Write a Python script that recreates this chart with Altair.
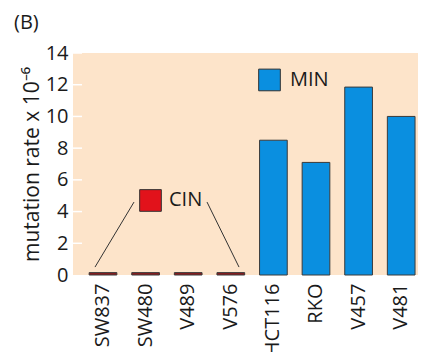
import altair as alt
import pandas as pd

# ---- data ----
cell_lines = ["SW837", "SW480", "V489", "V576", "HCT116", "RKO", "V457", "V481"]
groups = ["CIN", "CIN", "CIN", "CIN", "MIN", "MIN", "MIN", "MIN"]
rates = [0.15, 0.15, 0.15, 0.15, 8.5, 7.1, 11.85, 10.0]
y_ticks = [0, 2, 4, 6, 8, 10, 12, 14]

legend_labels = ["CIN", "MIN"]
legend_colors = ["#E2121B", "#0A8FE0"]
legend_px = [77.5, 196.5]          # pixel x of the legend squares in the plot
legend_val = [4.7, 12.3]           # y position in data units
legend_text_px = [96, 217]

# connector lines from the CIN legend to the CIN bars
conn_x = [61, 134]
conn_x2 = [22, 166]
conn_y = [4.6, 4.6]
conn_y2 = [0.5, 0.5]

FONT = "Open Sans"
TXT = "#1a1a1a"

df = pd.DataFrame({"line": cell_lines, "group": groups, "rate": rates})
leg = pd.DataFrame({"label": legend_labels, "color": legend_colors, "px": legend_px,
                    "val": legend_val, "tpx": legend_text_px})
conn = pd.DataFrame({"x": conn_x, "x2": conn_x2, "y": conn_y, "y2": conn_y2})
ticks = pd.DataFrame({"t": y_ticks[1:]})

yscale = alt.Scale(domain=[0, 14], nice=False)
yaxis = alt.Axis(values=y_ticks, title="mutation rate x 10⁻⁶", grid=False,
                 domain=False, ticks=False, tickSize=0, labelFontSize=20,
                 labelFont=FONT, labelColor=TXT, titleFont=FONT,
                 titleFontSize=21, titleFontWeight="normal", titleColor=TXT,
                 labelPadding=5, titlePadding=3, labelOverlap=False)
YT = "mutation rate x 10⁻⁶"

bars = alt.Chart(df).mark_bar(stroke="#3a3a3a", strokeWidth=1).encode(
    x=alt.X("line:N", sort=cell_lines,
            scale=alt.Scale(paddingInner=0.35, paddingOuter=0.2245, align=0.845),
            axis=alt.Axis(title=None, labelAngle=-90, labelFontSize=20, labelColor=TXT,
                          labelFont=FONT, domain=False, ticks=False, tickSize=0,
                          labelPadding=8, labelOverlap=False)),
    y=alt.Y("rate:Q", scale=yscale, axis=yaxis, title=YT),
    color=alt.Color("group:N", scale=alt.Scale(domain=["CIN", "MIN"],
                                               range=["#8B1A1E", "#0A8FE0"]),
                    legend=None),
)

tick_marks = alt.Chart(ticks).mark_rule(color="white", strokeWidth=1.5).encode(
    y=alt.Y("t:Q", scale=yscale, axis=yaxis, title=YT),
    x=alt.value(0), x2=alt.value(9),
)

conn_lines = alt.Chart(conn).mark_rule(color="#333333", strokeWidth=1).encode(
    x=alt.X("x:Q", scale=None, axis=None), x2="x2:Q",
    y=alt.Y("y:Q", scale=yscale, axis=yaxis, title=YT), y2="y2:Q",
)

leg_sq = alt.Chart(leg).mark_point(shape="square", filled=True, size=470, opacity=1,
                                   stroke="#333333", strokeWidth=1).encode(
    x=alt.X("px:Q", scale=None, axis=None),
    y=alt.Y("val:Q", scale=yscale, axis=yaxis, title=YT),
    fill=alt.Color("color:N", scale=None),
)

leg_txt = alt.Chart(leg).mark_text(align="left", baseline="middle", fontSize=20,
                                   font=FONT, color=TXT).encode(
    x=alt.X("tpx:Q", scale=None, axis=None),
    y=alt.Y("val:Q", scale=yscale, axis=yaxis, title=YT),
    text="label:N",
)

panel = alt.Chart(pd.DataFrame({"t": ["(B)"]})).mark_text(
    align="left", baseline="middle", fontSize=20, font=FONT, color=TXT
).encode(x=alt.value(-59), y=alt.value(-30), text="t:N")

chart = alt.layer(bars, tick_marks, conn_lines, leg_sq, leg_txt, panel).resolve_scale(
    x="independent"
).properties(
    width=345, height=222,
    autosize=alt.AutoSizeParams(type="none"),
    padding={"left": 65, "top": 45, "right": 0, "bottom": 77},
).configure_view(fill="#FDE4CA", strokeWidth=0).configure_axisY(labelOverlap=False)

chart.save("out.html", embed_options={"renderer": "svg", "actions": False})
